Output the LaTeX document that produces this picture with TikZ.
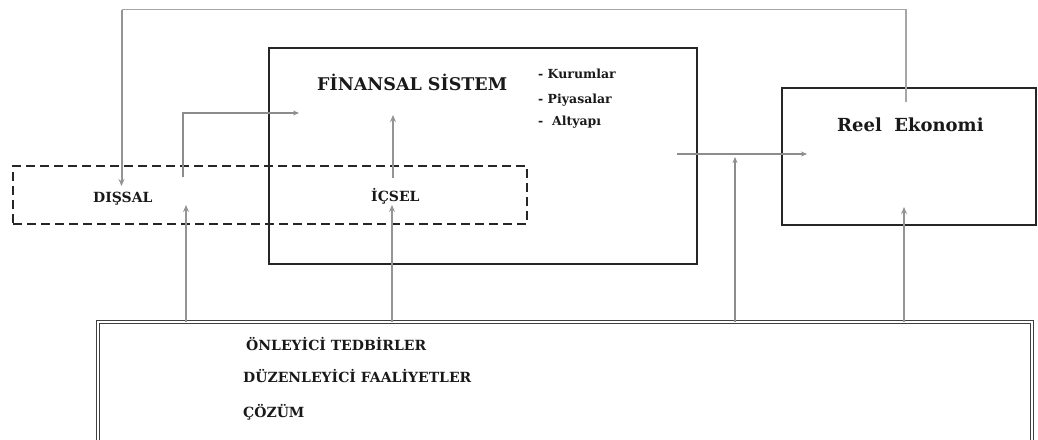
\documentclass[tikz,border=0pt]{standalone}
\usepackage{fontspec}
\setmainfont{DejaVu Serif}
\usetikzlibrary{arrows.meta}
\tikzset{
  dashbox/.style={draw=black!85, line width=2.8pt, dash pattern=on 9pt off 5pt},
  basebox/.style={draw=black!75, line width=0.9pt, double, double distance=1.6pt},
  conn/.style={draw=black!42, line width=1.6pt, -{Stealth[length=7pt,width=6pt]}},
  thinconn/.style={draw=black!45, line width=1.1pt, -{Stealth[length=6pt,width=5pt]}},
  lbl/.style={inner sep=0pt, anchor=base west, font=\bfseries, text=black!90},
}
\begin{document}
\begin{tikzpicture}[x=1pt,y=-1pt]
\useasboundingbox (0,0) rectangle (1038,439);
% boxes
\node[draw=black!85, line width=2.8pt, minimum width=428pt, minimum height=216pt, inner sep=0pt] (fin) at (483,156) {};
\node[draw=black!85, line width=2.8pt, minimum width=254pt, minimum height=137pt, inner sep=0pt] (reel) at (909,156.5) {};
\node[dashbox, minimum width=514pt, minimum height=58pt, inner sep=0pt] (ext) at (270,195) {};
\node[basebox, minimum width=934pt, minimum height=124pt, inner sep=0pt] (base) at (565,384) {};
% texts
\node[lbl, font=\bfseries\fontsize{17.5}{20}\selectfont] (finT) at (317,90) {FİNANSAL SİSTEM};
\node[lbl, font=\bfseries\fontsize{12.5}{15}\selectfont] (k1) at (538,78) {- Kurumlar};
\node[lbl, font=\bfseries\fontsize{12.5}{15}\selectfont] (k2) at (538,103) {- Piyasalar};
\node[lbl, font=\bfseries\fontsize{12.5}{15}\selectfont] (k3) at (538,125) {-\ \ Altyapı};
\node[lbl, font=\bfseries\fontsize{18}{20}\selectfont] (reelT) at (837,131) {Reel\ \ Ekonomi};
\node[lbl, font=\bfseries\fontsize{14}{16}\selectfont] (dis) at (93,202) {DIŞSAL};
\node[lbl, font=\bfseries\fontsize{14}{16}\selectfont] (ic) at (371,201) {İÇSEL};
\node[lbl, font=\bfseries\fontsize{14}{16}\selectfont] (b1) at (246,350) {ÖNLEYİCİ TEDBİRLER};
\node[lbl, font=\bfseries\fontsize{14}{16}\selectfont] (b2) at (243,382) {DÜZENLEYİCİ FAALİYETLER};
\node[lbl, font=\bfseries\fontsize{14}{16}\selectfont] (b3) at (243,417) {ÇÖZÜM};
% coordinates
\coordinate (fbS) at (906,102);
\coordinate (fbT) at (121.5,9.5);
\coordinate (fbE) at (121.5,186);
\coordinate (exS) at (183,177);
\coordinate (exT) at (183,113);
\coordinate (exE) at (299,113);
\coordinate (icS) at (393,178);
\coordinate (icE) at (393,115);
\coordinate (frS) at (677,154);
\coordinate (frE) at (807,154);
% connectors
\draw[draw=black!35, line width=1.4pt] (fbS) |- (fbT);
\draw[conn, line width=2pt] (fbT) -- (fbE);
\draw[thinconn] (exS) -- (exT) -- (exE);
\draw[conn] (icS) -- (icE);
\draw[thinconn] (frS) -- (frE);
\draw[conn] (base.north -| 186,0) -- (186,205);
\draw[conn] (base.north -| 392,0) -- (392,205);
\draw[thinconn] (base.north -| 735,0) -- (735,157);
\draw[conn] (base.north -| 904,0) -- (904,207);
\end{tikzpicture}
\end{document}
